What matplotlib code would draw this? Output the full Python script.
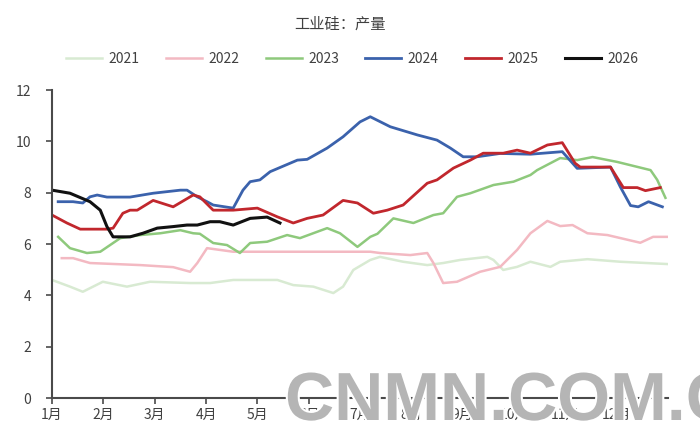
import matplotlib
matplotlib.use("Agg")
import matplotlib.pyplot as plt
import matplotlib.patheffects as pe

plt.rcParams['font.family'] = ['Noto Sans CJK SC', 'DejaVu Sans']

# x positions are in months (0 = 1月)
x_2021 = [0, 0.35, 0.60, 0.99, 1.46, 1.91, 2.69, 3.08, 3.53, 4.39, 4.70, 5.09, 5.48, 5.67,
          5.87, 6.20, 6.39, 6.84, 7.31, 7.62, 7.95, 8.48, 8.60, 8.79, 9.06, 9.32, 9.71,
          9.90, 10.43, 11.07, 11.99]
y_2021 = [4.6, 4.34, 4.14, 4.53, 4.34, 4.53, 4.48, 4.48, 4.6, 4.6, 4.4, 4.34, 4.09, 4.34,
          4.99, 5.38, 5.5, 5.31, 5.18, 5.26, 5.38, 5.5, 5.38, 4.99, 5.11, 5.31, 5.11,
          5.31, 5.41, 5.31, 5.22]

x_2022 = [0.19, 0.41, 0.74, 1.72, 2.36, 2.69, 2.83, 3.02, 3.53, 4.83, 6.20, 6.39, 6.98,
          7.31, 7.43, 7.62, 7.89, 8.34, 8.73, 9.06, 9.32, 9.65, 9.90, 10.14, 10.43, 10.82,
          11.46, 11.71, 11.99]
y_2022 = [5.45, 5.45, 5.26, 5.18, 5.1, 4.92, 5.26, 5.84, 5.7, 5.7, 5.7, 5.65, 5.57,
          5.65, 5.26, 4.48, 4.53, 4.92, 5.11, 5.77, 6.42, 6.9, 6.7, 6.74, 6.42, 6.35,
          6.05, 6.28, 6.28]

x_2023 = [0.12, 0.35, 0.68, 0.94, 1.19, 1.33, 1.72, 2.11, 2.50, 2.75, 2.88, 3.14, 3.41,
          3.66, 3.86, 4.19, 4.58, 4.83, 5.36, 5.61, 5.95, 6.20, 6.34, 6.65, 7.04, 7.43,
          7.62, 7.89, 8.15, 8.60, 8.99, 9.32, 9.45, 9.90, 10.23, 10.53, 11.01, 11.66,
          11.79, 11.95]
y_2023 = [6.28, 5.84, 5.65, 5.7, 6.04, 6.23, 6.35, 6.42, 6.54, 6.42, 6.4, 6.04, 5.96,
          5.65, 6.04, 6.09, 6.35, 6.23, 6.62, 6.42, 5.89, 6.28, 6.4, 7.0, 6.82, 7.13,
          7.2, 7.84, 7.98, 8.3, 8.43, 8.69, 8.88, 9.35, 9.27, 9.39, 9.2, 8.88,
          8.5, 7.8]

x_2024 = [0.12, 0.41, 0.60, 0.74, 0.88, 1.07, 1.52, 1.97, 2.50, 2.63, 2.83, 3.02, 3.14,
          3.53, 3.72, 3.86, 4.05, 4.25, 4.78, 4.97, 5.36, 5.67, 6.00, 6.20, 6.59, 7.12,
          7.50, 7.76, 8.01, 8.28, 8.73, 9.32, 9.94, 10.23, 10.88, 11.07, 11.27, 11.42,
          11.62, 11.89]
y_2024 = [7.65, 7.65, 7.6, 7.84, 7.91, 7.83, 7.83, 7.98, 8.1, 8.1, 7.84, 7.65, 7.52,
          7.4, 8.1, 8.43, 8.5, 8.82, 9.27, 9.3, 9.74, 10.18, 10.76, 10.96, 10.57, 10.25,
          10.05, 9.74, 9.4, 9.4, 9.53, 9.5, 9.6, 8.95, 9.0, 8.23, 7.5, 7.45,
          7.65, 7.45]

x_2025 = [0, 0.29, 0.55, 1.07, 1.19, 1.38, 1.52, 1.66, 1.97, 2.36, 2.75, 2.88, 3.14,
          3.53, 4.00, 4.39, 4.70, 4.97, 5.28, 5.67, 5.95, 6.26, 6.53, 6.84, 7.31, 7.50,
          7.82, 8.15, 8.40, 8.79, 9.06, 9.32, 9.65, 9.94, 10.19, 10.29, 10.88, 11.13,
          11.40, 11.56, 11.85]
y_2025 = [7.13, 6.82, 6.58, 6.58, 6.62, 7.2, 7.32, 7.32, 7.7, 7.45, 7.91, 7.84, 7.32,
          7.32, 7.4, 7.06, 6.82, 7.0, 7.13, 7.7, 7.6, 7.2, 7.32, 7.52, 8.37, 8.5,
          8.96, 9.27, 9.54, 9.54, 9.66, 9.54, 9.86, 9.95, 9.15, 9.0, 9.0, 8.2,
          8.2, 8.08, 8.2]

x_2026 = [0, 0.35, 0.74, 0.94, 1.07, 1.19, 1.52, 1.77, 2.05, 2.36, 2.63, 2.83, 3.08,
          3.27, 3.53, 3.86, 4.19, 4.44]
y_2026 = [8.1, 7.98, 7.65, 7.32, 6.68, 6.28, 6.28, 6.42, 6.62, 6.68, 6.74, 6.74, 6.87,
          6.87, 6.74, 7.0, 7.05, 6.82]

month_labels = ['1月', '2月', '3月', '4月', '5月', '6月', '7月', '8月', '9月', '10月', '11月', '12月']

series = [
    ('2021', x_2021, y_2021, '#d8ead2', 1.8),
    ('2022', x_2022, y_2022, '#f3b9c2', 1.8),
    ('2023', x_2023, y_2023, '#8ec97c', 1.8),
    ('2024', x_2024, y_2024, '#3b62ac', 2.0),
    ('2025', x_2025, y_2025, '#c1272d', 2.0),
    ('2026', x_2026, y_2026, '#111111', 2.2),
]

fig = plt.figure(figsize=(7, 4.45), dpi=100)
ax = fig.add_axes([0.0743, 0.1056, 0.88, 0.692])

for name, xs, ys, color, lw in series:
    ax.plot(xs, ys, color=color, linewidth=lw, label=name)

ax.set_xlim(0, 12)
ax.set_ylim(0, 12)
ax.set_yticks(range(0, 13, 2))
ax.set_xticks(range(12))
ax.set_xticklabels(month_labels)

for side in ['top', 'right']:
    ax.spines[side].set_visible(False)
for side in ['left', 'bottom']:
    ax.spines[side].set_color('#4a4a4a')
    ax.spines[side].set_linewidth(1.5)

ax.tick_params(axis='y', length=4, width=1.2, color='#4a4a4a', pad=11,
               labelsize=10, labelcolor='#404040')
ax.tick_params(axis='x', length=4, width=1.2, color='#4a4a4a', pad=3,
               labelsize=10, labelcolor='#404040')

fig.text(0.486, 0.945, '工业硅：产量', ha='center', va='center', fontsize=11, color='#404040')

fig.legend(loc='center', bbox_to_anchor=(0.503, 0.868), ncol=6, frameon=False,
           fontsize=10, handlelength=2.6, handletextpad=0.45, columnspacing=1.9,
           labelcolor='#404040')

# watermark
fig.text(285 / 700, 25 / 445, 'CNMN.COM.CN', fontsize=49, fontweight='bold',
         family='Liberation Sans', color='#b5b5b5', ha='left', va='baseline',
         path_effects=[pe.withStroke(linewidth=3, foreground='white')])

fig.savefig('out.png', dpi=100)
